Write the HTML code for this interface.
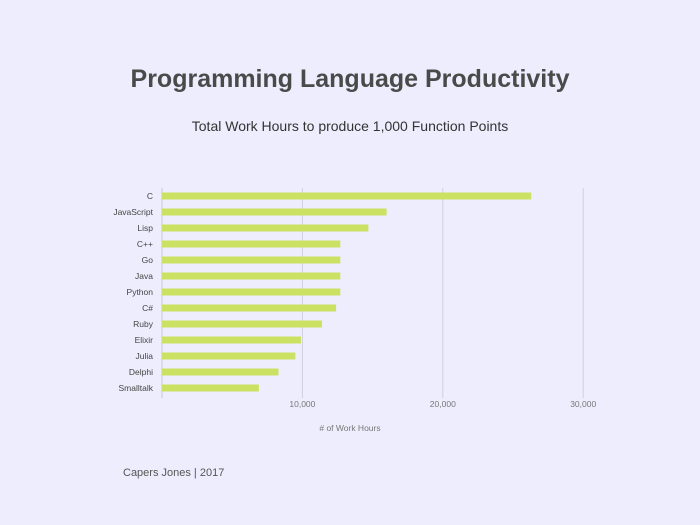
<!DOCTYPE html>
<html><head><meta charset="utf-8"><style>
body{margin:0;background:#eeedfd;}
svg{display:block;font-family:"Liberation Sans",sans-serif;}
</style></head><body>
<svg width="700" height="525" id="c">
<rect width="700" height="525" fill="#eeedfd"/>
<text x="350" y="87" text-anchor="middle" font-size="25" font-weight="bold" fill="#4a4a4a">Programming Language Productivity</text>
<text x="350" y="131" text-anchor="middle" font-size="14" fill="#333">Total Work Hours to produce 1,000 Function Points</text>
<text x="350" y="431" text-anchor="middle" font-size="8.5" fill="#777"># of Work Hours</text>
<text x="123" y="476" font-size="11" fill="#555">Capers  Jones | 2017</text>
<g id="plot"></g>
</svg>
<script>
const categories=["C","JavaScript","Lisp","C++","Go","Java","Python","C#","Ruby","Elixir","Julia","Delphi","Smalltalk"];
const values=[26300,16000,14700,12700,12700,12700,12700,12400,11400,9900,9500,8300,6900];
const ticks=[10000,20000,30000];
const tickLabels=["10,000","20,000","30,000"];
const ns="http://www.w3.org/2000/svg";
const g=document.getElementById('plot');
const x=v=>162+v*0.01404;
const y=i=>196+i*16.0;
function mk(t,a){const e=document.createElementNS(ns,t);for(const k in a)e.setAttribute(k,a[k]);g.appendChild(e);return e;}
ticks.forEach((t,i)=>{
 const l=mk('line',{x1:x(t),x2:x(t),y1:188,y2:398,stroke:'#d0cfe0','stroke-width':1});
 
 
 const tx=mk('text',{x:x(t),y:407,'text-anchor':'middle','font-size':8.5,fill:'#777'});
 tx.textContent=tickLabels[i];
 
 
});
const ax=mk('line',{x1:162,x2:162,y1:188,y2:398,stroke:'#c8c7d8','stroke-width':1});


categories.forEach((c,i)=>{
 const r=mk('rect',{x:162,y:y(i)-3.5,width:x(values[i])-162,height:7,fill:'#cae264'});
 
 
 const t=mk('text',{x:153,y:y(i)+3,'text-anchor':'end','font-size':8.5,fill:'#444'});
 t.textContent=c;
 
 
});
</script>
</body></html>
